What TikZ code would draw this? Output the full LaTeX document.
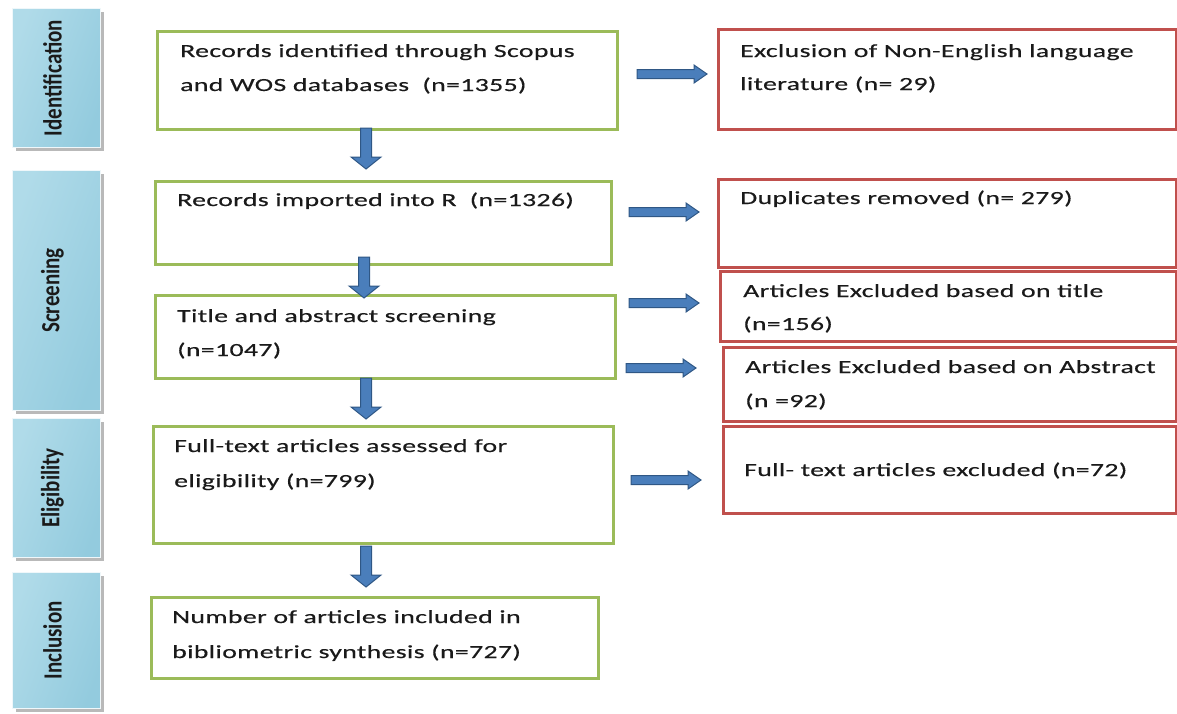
\documentclass[tikz,border=0pt]{standalone}
\usepackage{fontspec}
\usetikzlibrary{shadows}
\newfontfamily\bodyfont{Carlito}[FakeStretch=1.5,LetterSpace=2,FakeBold=0.4]
\newfontfamily\phasefont{Carlito}
\definecolor{gline}{HTML}{9BBB59}
\definecolor{rline}{HTML}{C0504D}
\definecolor{afill}{HTML}{4A7EBB}
\definecolor{aline}{HTML}{2F5785}
\definecolor{pdark}{HTML}{93CBDE}
\definecolor{plight}{HTML}{DDEFF5}
\definecolor{pmid}{HTML}{B0DBE9}
\definecolor{tcol}{HTML}{1A1A1A}
\tikzset{
  phasebox/.style={draw=white!85!pdark, line width=1pt, left color=pmid, middle color=plight, right color=pdark, shading angle=70,
    drop shadow={shadow xshift=3pt, shadow yshift=-3pt, fill=gray!55, opacity=1}, anchor=north west, inner sep=0pt},
  gbox/.style={draw=gline, line width=3pt, anchor=north west, inner sep=0pt, fill=white},
  rbox/.style={draw=rline, line width=3pt, anchor=north west, inner sep=0pt, fill=white},
  txt/.style={anchor=base west, inner sep=0pt, text=tcol, font=\bodyfont\fontsize{18.5}{22}\selectfont},
  ptxt/.style={inner sep=0pt, text=tcol, font=\phasefont\bfseries\fontsize{21}{24}\selectfont},
  blockarrow/.style={fill=afill, draw=aline, line width=1pt, line join=miter},
  rarrow/.pic={\path[blockarrow] (0,-4.5) -- (57,-4.5) -- (57,-9) -- (70,0) -- (57,9) -- (57,4.5) -- (0,4.5) -- cycle;},
  darrow/.pic={\path[blockarrow] (-5.5,0) -- (-5.5,29) -- (-15,29) -- (0,41) -- (15,29) -- (5.5,29) -- (5.5,0) -- cycle;}
}
\begin{document}
\begin{tikzpicture}[x=1pt,y=-1pt]
\useasboundingbox (0,0) rectangle (1177,713);
% phase boxes
\node[phasebox, minimum width=88pt, minimum height=139pt] (p1) at (12,8) {};
\node[phasebox, minimum width=88pt, minimum height=240pt] (p2) at (12,170) {};
\node[phasebox, minimum width=88pt, minimum height=139pt] (p3) at (12,418) {};
\node[phasebox, minimum width=88pt, minimum height=136pt] (p4) at (12,572) {};
\node[ptxt] (l1) at ([xshift=-4pt]p1.center) {\rotatebox{90}{\scalebox{1}[1.25]{Identification}}};
\node[ptxt] (l2) at ([xshift=-4pt]p2.center) {\rotatebox{90}{\scalebox{1}[1.25]{Screening}}};
\node[ptxt] (l3) at ([xshift=-4pt]p3.center) {\rotatebox{90}{\scalebox{1}[1.25]{Eligibility}}};
\node[ptxt] (l4) at ([xshift=-4pt]p4.center) {\rotatebox{90}{\scalebox{1}[1.25]{Inclusion}}};
% green boxes
\node[gbox, minimum width=460pt, minimum height=98pt] (g1) at (156,30) {};
\node[gbox, minimum width=456pt, minimum height=83pt] (g2) at (154,180) {};
\node[gbox, minimum width=460pt, minimum height=83pt] (g3) at (154,294) {};
\node[gbox, minimum width=460pt, minimum height=117pt] (g4) at (152,425) {};
\node[gbox, minimum width=447pt, minimum height=81pt] (g5) at (150,596) {};
% red boxes
\node[rbox, minimum width=458pt, minimum height=100pt] (r1) at (717,28) {};
\node[rbox, minimum width=458pt, minimum height=88pt] (r2) at (717,178) {};
\node[rbox, minimum width=456pt, minimum height=70pt] (r3) at (719,270) {};
\node[rbox, minimum width=453pt, minimum height=74pt] (r4) at (722,346) {};
\node[rbox, minimum width=453pt, minimum height=87pt] (r5) at (722,425) {};
% texts
\node[txt] (t1a) at (180,57) {Records identified through Scopus};
\node[txt] (t1b) at (180,91) {and WOS databases\ \ (n=1355)};
\node[txt] (t2a) at (177,206) {Records imported into R\ \ (n=1326)};
\node[txt] (t3a) at (177,322) {Title and abstract screening};
\node[txt] (t3b) at (177,356) {(n=1047)};
\node[txt] (t4a) at (174,452) {Full-text articles assessed for};
\node[txt] (t4b) at (174,487) {eligibility (n=799)};
\node[txt] (t5a) at (172,623) {Number of articles included in};
\node[txt] (t5b) at (172,658) {bibliometric synthesis (n=727)};
\node[txt] (u1a) at (740,57) {Exclusion of Non-English language};
\node[txt] (u1b) at (740,90) {literature (n= 29)};
\node[txt] (u2a) at (740,204) {Duplicates removed (n= 279)};
\node[txt] (u3a) at (743,297) {Articles Excluded based on title};
\node[txt] (u3b) at (743,330) {(n=156)};
\node[txt] (u4a) at (745,373) {Articles Excluded based on Abstract};
\node[txt] (u4b) at (745,407) {(n =92)};
\node[txt] (u5a) at (744,476) {Full- text articles excluded (n=72)};
% arrows
\pic at (637,74) {rarrow};
\pic at (629,212) {rarrow};
\pic at (629,303) {rarrow};
\pic at (626,368) {rarrow};
\pic at (631,480) {rarrow};
\pic at (366,128) {darrow};
\pic at (364,257) {darrow};
\pic at (366,378) {darrow};
\pic at (366,546) {darrow};
\end{tikzpicture}
\end{document}
